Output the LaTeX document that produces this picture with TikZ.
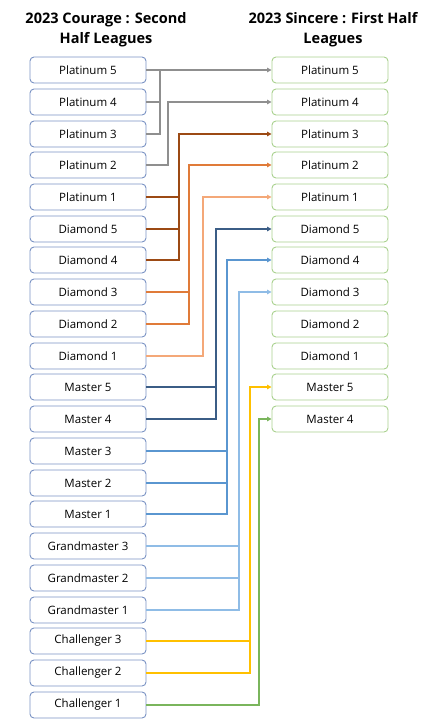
\documentclass[tikz,border=0pt]{standalone}
\usepackage{fontspec}
\setmainfont{Open Sans}
\usepackage{xcolor}
\usepackage{tikz}
\usetikzlibrary{arrows.meta,calc,positioning}
\definecolor{oldblue}{HTML}{7A93C4}
\definecolor{newgreen}{HTML}{A9D18E}
\definecolor{platgrey}{HTML}{8F8F8F}
\definecolor{rustbrown}{HTML}{9C4A14}
\definecolor{midorange}{HTML}{E07B39}
\definecolor{paleorange}{HTML}{F4A878}
\definecolor{slateblue}{HTML}{3B5D86}
\definecolor{skyblue}{HTML}{5A96D0}
\definecolor{paleblue}{HTML}{8FBCE6}
\definecolor{goldyellow}{HTML}{FFC000}
\definecolor{leafgreen}{HTML}{7AB55C}
\tikzset{
  old league/.style = {draw=oldblue, fill=white, rounded corners=4pt, line width=0.9pt,
                       minimum width=116pt, minimum height=26pt, inner sep=0pt,
                       font=\fontsize{11.5}{13}\selectfont},
  new league/.style = {old league, draw=newgreen},
  title/.style      = {align=center, font=\fontsize{14.5}{20}\selectfont\bfseries},
  link/.style       = {line width=1.6pt, -{Triangle[length=4.5pt,width=4.5pt]}},
  feeder/.style     = {line width=1.6pt},
}

\begin{document}
\begin{tikzpicture}[x=1pt,y=-1pt]
      \useasboundingbox (0,0) rectangle (445,720);
      \node[title] (ltitle) at (106,30) {2023 Courage : Second\\Half Leagues};
      \node[title] (rtitle) at (333,30) {2023 Sincere : First Half\\Leagues};
      \node[old league] (l1)  at (88,70)  {Platinum 5};
      \node[old league] (l2)  at (88,102) {Platinum 4};
      \node[old league] (l3)  at (88,134) {Platinum 3};
      \node[old league] (l4)  at (88,165) {Platinum 2};
      \node[old league] (l5)  at (88,197) {Platinum 1};
      \node[old league] (l6)  at (88,229) {Diamond 5};
      \node[old league] (l7)  at (88,260) {Diamond 4};
      \node[old league] (l8)  at (88,292) {Diamond 3};
      \node[old league] (l9)  at (88,324) {Diamond 2};
      \node[old league] (l10) at (88,356) {Diamond 1};
      \node[old league] (l11) at (88,387) {Master 5};
      \node[old league] (l12) at (88,419) {Master 4};
      \node[old league] (l13) at (88,451) {Master 3};
      \node[old league] (l14) at (88,483) {Master 2};
      \node[old league] (l15) at (88,514) {Master 1};
      \node[old league] (l16) at (88,546) {Grandmaster 3};
      \node[old league] (l17) at (88,578) {Grandmaster 2};
      \node[old league] (l18) at (88,610) {Grandmaster 1};
      \node[old league] (l19) at (88,641) {Challenger 3};
      \node[old league] (l20) at (88,673) {Challenger 2};
      \node[old league] (l21) at (88,705) {Challenger 1};
      \node[new league] (r1)  at (330,70)  {Platinum 5};
      \node[new league] (r2)  at (330,102) {Platinum 4};
      \node[new league] (r3)  at (330,134) {Platinum 3};
      \node[new league] (r4)  at (330,165) {Platinum 2};
      \node[new league] (r5)  at (330,197) {Platinum 1};
      \node[new league] (r6)  at (330,229) {Diamond 5};
      \node[new league] (r7)  at (330,260) {Diamond 4};
      \node[new league] (r8)  at (330,292) {Diamond 3};
      \node[new league] (r9)  at (330,324) {Diamond 2};
      \node[new league] (r10) at (330,356) {Diamond 1};
      \node[new league] (r11) at (330,387) {Master 5};
      \node[new league] (r12) at (330,419) {Master 4};
      \coordinate (ta) at (160,0);
      \coordinate (tb) at (168,0);
      \coordinate (tc) at (179,0);
      \coordinate (td) at (189,0);
      \coordinate (te) at (203,0);
      \coordinate (tf) at (216,0);
      \coordinate (tg) at (227,0);
      \coordinate (th) at (239,0);
      \coordinate (ti) at (250,0);
      \coordinate (tj) at (259,0);
      \draw[link, platgrey] (l3.east) -| (ta |- r1.west) -- (r1.west);
      \draw[feeder, platgrey] (l1.east) -- (l1.east -| ta);
      \draw[feeder, platgrey] (l2.east) -- (l2.east -| ta);
      \draw[link, platgrey] (l4.east) -| (tb |- r2.west) -- (r2.west);
      \draw[link, rustbrown] (l7.east) -| (tc |- r3.west) -- (r3.west);
      \draw[feeder, rustbrown] (l5.east) -- (l5.east -| tc);
      \draw[feeder, rustbrown] (l6.east) -- (l6.east -| tc);
      \draw[link, midorange] (l9.east) -| (td |- r4.west) -- (r4.west);
      \draw[feeder, midorange] (l8.east) -- (l8.east -| td);
      \draw[link, paleorange] (l10.east) -| (te |- r5.west) -- (r5.west);
      \draw[link, slateblue] (l12.east) -| (tf |- r6.west) -- (r6.west);
      \draw[feeder, slateblue] (l11.east) -- (l11.east -| tf);
      \draw[link, skyblue] (l15.east) -| (tg |- r7.west) -- (r7.west);
      \draw[feeder, skyblue] (l13.east) -- (l13.east -| tg);
      \draw[feeder, skyblue] (l14.east) -- (l14.east -| tg);
      \draw[link, paleblue] (l18.east) -| (th |- r8.west) -- (r8.west);
      \draw[feeder, paleblue] (l16.east) -- (l16.east -| th);
      \draw[feeder, paleblue] (l17.east) -- (l17.east -| th);
      \draw[link, goldyellow] (l20.east) -| (ti |- r11.west) -- (r11.west);
      \draw[feeder, goldyellow] (l19.east) -- (l19.east -| ti);
      \draw[link, leafgreen] (l21.east) -| (tj |- r12.west) -- (r12.west);
    \end{tikzpicture}
\end{document}
